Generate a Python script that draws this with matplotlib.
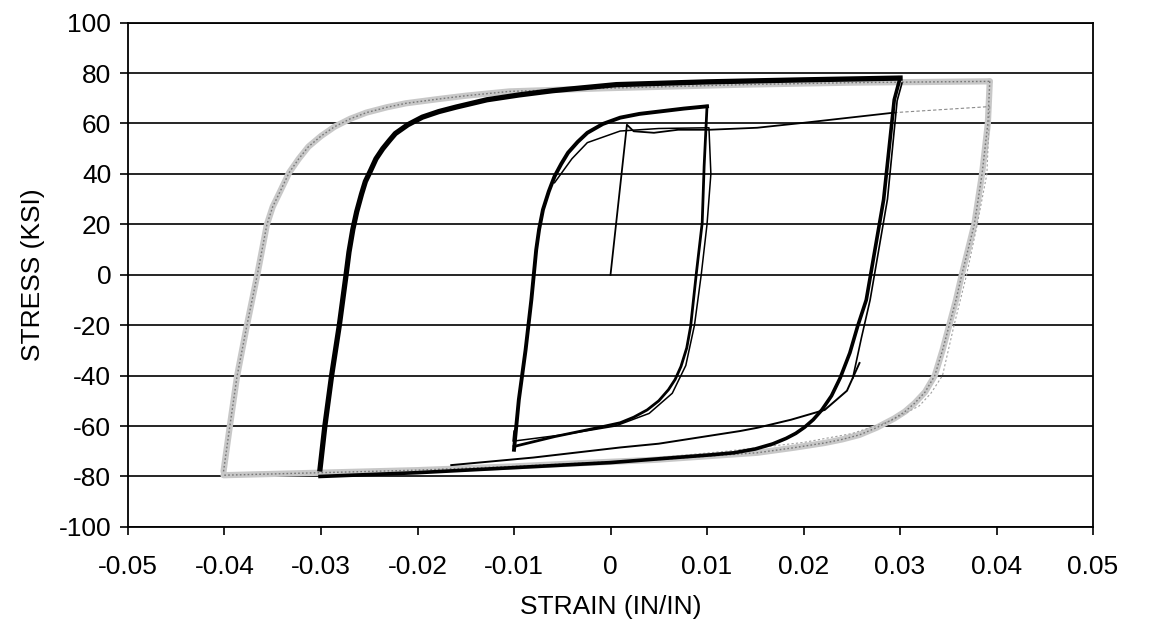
import matplotlib
matplotlib.use('Agg')
import matplotlib.pyplot as plt

plt.rcParams['font.family'] = ['Liberation Sans', 'DejaVu Sans']
plt.rcParams['axes.unicode_minus'] = False

# +/-0.04 loop (grey)
c_up_x = [-0.0401, -0.0395, -0.0387, -0.0377, -0.0366, -0.0361, -0.0356, -0.0350, -0.0343, -0.0333,
          -0.0323, -0.0313, -0.0300, -0.0286, -0.0270, -0.0253, -0.0232, -0.0212, -0.0180, -0.0150,
          -0.0105, -0.0004, 0.0137, 0.0250, 0.0393]
c_up_y = [-78, -61.5, -40.3, -20.5, 0, 10, 20, 27, 32.5, 40.5, 46, 50.8, 55, 58.7, 61.8, 64.3, 66.4,
          68, 69.6, 71, 72.7, 74, 75.4, 76.2, 76.7]
c_dn_x = [0.0393, 0.0391, 0.0385, 0.0377, 0.0364, 0.0358, 0.0351, 0.0344, 0.0336, 0.0326, 0.0315,
          0.0305, 0.0294, 0.0276, 0.0258, 0.0240, 0.0222, 0.0190, 0.0152, 0.0046, -0.0024, -0.0100,
          -0.0200, -0.0300, -0.0401]
c_dn_y = [76.7, 60, 40, 20, 0, -10, -20, -30, -40, -46.5, -51, -54.3, -57, -60.6, -63.5, -65.3, -66.7,
          -68.6, -70.6, -73.4, -74.6, -76, -77.5, -78.5, -79.5]
c2_x = [0.0393, 0.0390, 0.0380, 0.0369, 0.0356, 0.0344, 0.0332, 0.0320, 0.0290, 0.0250, 0.0200,
        0.0120, 0.0050]
c2_y = [66.7, 40, 20, 0, -20, -40, -47, -52, -58, -63, -66.5, -70, -72.5]

# +/-0.03 loop (black)
b_up_x = [-0.0301, -0.0296, -0.0289, -0.0281, -0.0274, -0.0271, -0.0267, -0.0263, -0.0258, -0.0254,
          -0.0249, -0.0243, -0.0236, -0.0229, -0.0223, -0.0210, -0.0195, -0.0178, -0.0160, -0.0128,
          -0.0095, -0.0060, 0.0006, 0.0100, 0.0200, 0.0300]
b_up_y = [-77, -60, -40, -20, 0, 9, 18, 25, 32, 37, 41, 46, 50, 53.3, 56, 59.5, 62.5, 64.7, 66.5,
          69.4, 71.3, 73, 75.4, 76.5, 77.3, 78.0]
b_dn_x = [0.0300, 0.0294, 0.0283, 0.0274, 0.0265, 0.0256, 0.0248, 0.0238, 0.0229, 0.0219, 0.0210,
          0.0201, 0.0192, 0.0182, 0.0168, 0.0150, 0.0128, 0.0105, 0.0050, 0.0000, -0.0100, -0.0200,
          -0.0301]
b_dn_y = [78.0, 69.4, 29.8, 9.9, -10, -20.5, -31, -40.9, -48, -53.6, -57.5, -60.5, -62.9, -64.9,
          -67.1, -69.1, -70.6, -71.4, -73, -74.5, -76.5, -78.5, -80]
b2_x = [0.0302, 0.0297, 0.0287, 0.0278, 0.0269, 0.0260, 0.0251]
b2_y = [76, 69, 30, 10, -10, -25, -41]

# +/-0.01 loop (black)
a_up_x = [-0.0100, -0.0095, -0.0088, -0.0082, -0.0077, -0.0074, -0.0070, -0.0064, -0.0058, -0.0051,
          -0.0044, -0.0034, -0.0024, -0.0008, 0.0010, 0.0030, 0.0052, 0.0076, 0.0100]
a_up_y = [-69.4, -49.6, -29.8, -9.9, 9.9, 18, 25.8, 33, 39, 44, 48.4, 52.7, 56.3, 59.8, 62.3, 63.8,
          64.8, 65.9, 66.8]
a_dn_x = [0.0100, 0.0097, 0.0095, 0.0089, 0.0083, 0.0079, 0.0073, 0.0067, 0.0060, 0.0050, 0.0038,
          0.0024, 0.0010, -0.0008, -0.0024, -0.0058, -0.0100]
a_dn_y = [66.8, 43, 20.6, 0.8, -20.5, -29, -36.4, -41.5, -45.6, -50, -53.6, -56.5, -58.7, -60.2,
          -61.5, -64.2, -68.1]
a2_x = [-0.0058, -0.0040, -0.0024, 0.0010, 0.0050, 0.0102, 0.0104, 0.0100, 0.0094, 0.0087,
        0.0078, 0.0064, 0.0040, 0.0005, -0.0050, -0.0101, -0.0100]
a2_y = [36.5, 46, 52.4, 57, 58, 58.3, 40, 20, 0, -20, -36, -47, -55, -60, -63.5, -66, -62]

# first loading and transitions
init_x = [0.0000, 0.0017, 0.0024, 0.0045, 0.0070, 0.0102, 0.0152, 0.0201, 0.0294]
init_y = [0.0, 59.5, 56.9, 56.3, 57.5, 57.5, 58.3, 60.3, 64.3]
ext_x = [0.0294, 0.0393]
ext_y = [64.3, 66.7]
tr_x = [-0.0165, -0.0080, 0.0010, 0.0050, 0.0134, 0.0152, 0.0187, 0.0222, 0.0245, 0.0258]
tr_y = [-75.5, -72.5, -68.5, -67, -62, -60.7, -57.5, -53.6, -46, -35]

fig = plt.figure(figsize=(11.53, 6.28), dpi=100)
ax = fig.add_axes([0.111, 0.161, 0.837, 0.803])

# grey loop: light band with darker stipple on top
for xs, ys in [(c_up_x, c_up_y), (c_dn_x, c_dn_y)]:
    ax.plot(xs, ys, color='#c8c8c8', lw=4.5, solid_capstyle='round', zorder=3)
    ax.plot(xs, ys, color='#777777', lw=1.0, ls=(0, (1.2, 1.6)), zorder=4)
ax.plot(c2_x, c2_y, color='#a0a0a0', lw=0.8, ls=(0, (2, 2)), zorder=3)
ax.plot(ext_x, ext_y, color='#8a8a8a', lw=0.8, ls=(0, (3, 2)), zorder=3)

ax.plot(b_up_x, b_up_y, color='black', lw=3.8, zorder=5)
ax.plot(b_dn_x, b_dn_y, color='black', lw=2.6, zorder=5)
ax.plot(b2_x, b2_y, color='black', lw=1.2, zorder=5)
ax.plot(a_up_x, a_up_y, color='black', lw=2.8, zorder=5)
ax.plot(a_dn_x, a_dn_y, color='black', lw=2.0, zorder=5)
ax.plot(a2_x, a2_y, color='black', lw=1.1, zorder=5)
ax.plot(init_x, init_y, color='black', lw=1.3, zorder=5)
ax.plot(tr_x, tr_y, color='black', lw=1.4, zorder=5)

ax.set_xlim(-0.05, 0.05)
ax.set_ylim(-100, 100)
ax.set_xticks([-0.05, -0.04, -0.03, -0.02, -0.01, 0, 0.01, 0.02, 0.03, 0.04, 0.05])
ax.set_xticklabels(['-0.05', '-0.04', '-0.03', '-0.02', '-0.01', '0', '0.01', '0.02', '0.03', '0.04', '0.05'])
ax.set_yticks(range(-100, 101, 20))
ax.yaxis.grid(True, color='black', lw=1.2)
ax.set_axisbelow(True)
for s in ax.spines.values():
    s.set_color('black')
    s.set_linewidth(1.3)
ax.tick_params(axis='both', labelsize=19, length=6, width=1.2, color='black')
ax.tick_params(axis='x', pad=14)
ax.tick_params(axis='y', pad=6)
ax.set_xlabel('STRAIN (IN/IN)', fontsize=19, labelpad=12)
ax.set_ylabel('STRESS (KSI)', fontsize=19, labelpad=10)

fig.savefig('out.png', dpi=100)
